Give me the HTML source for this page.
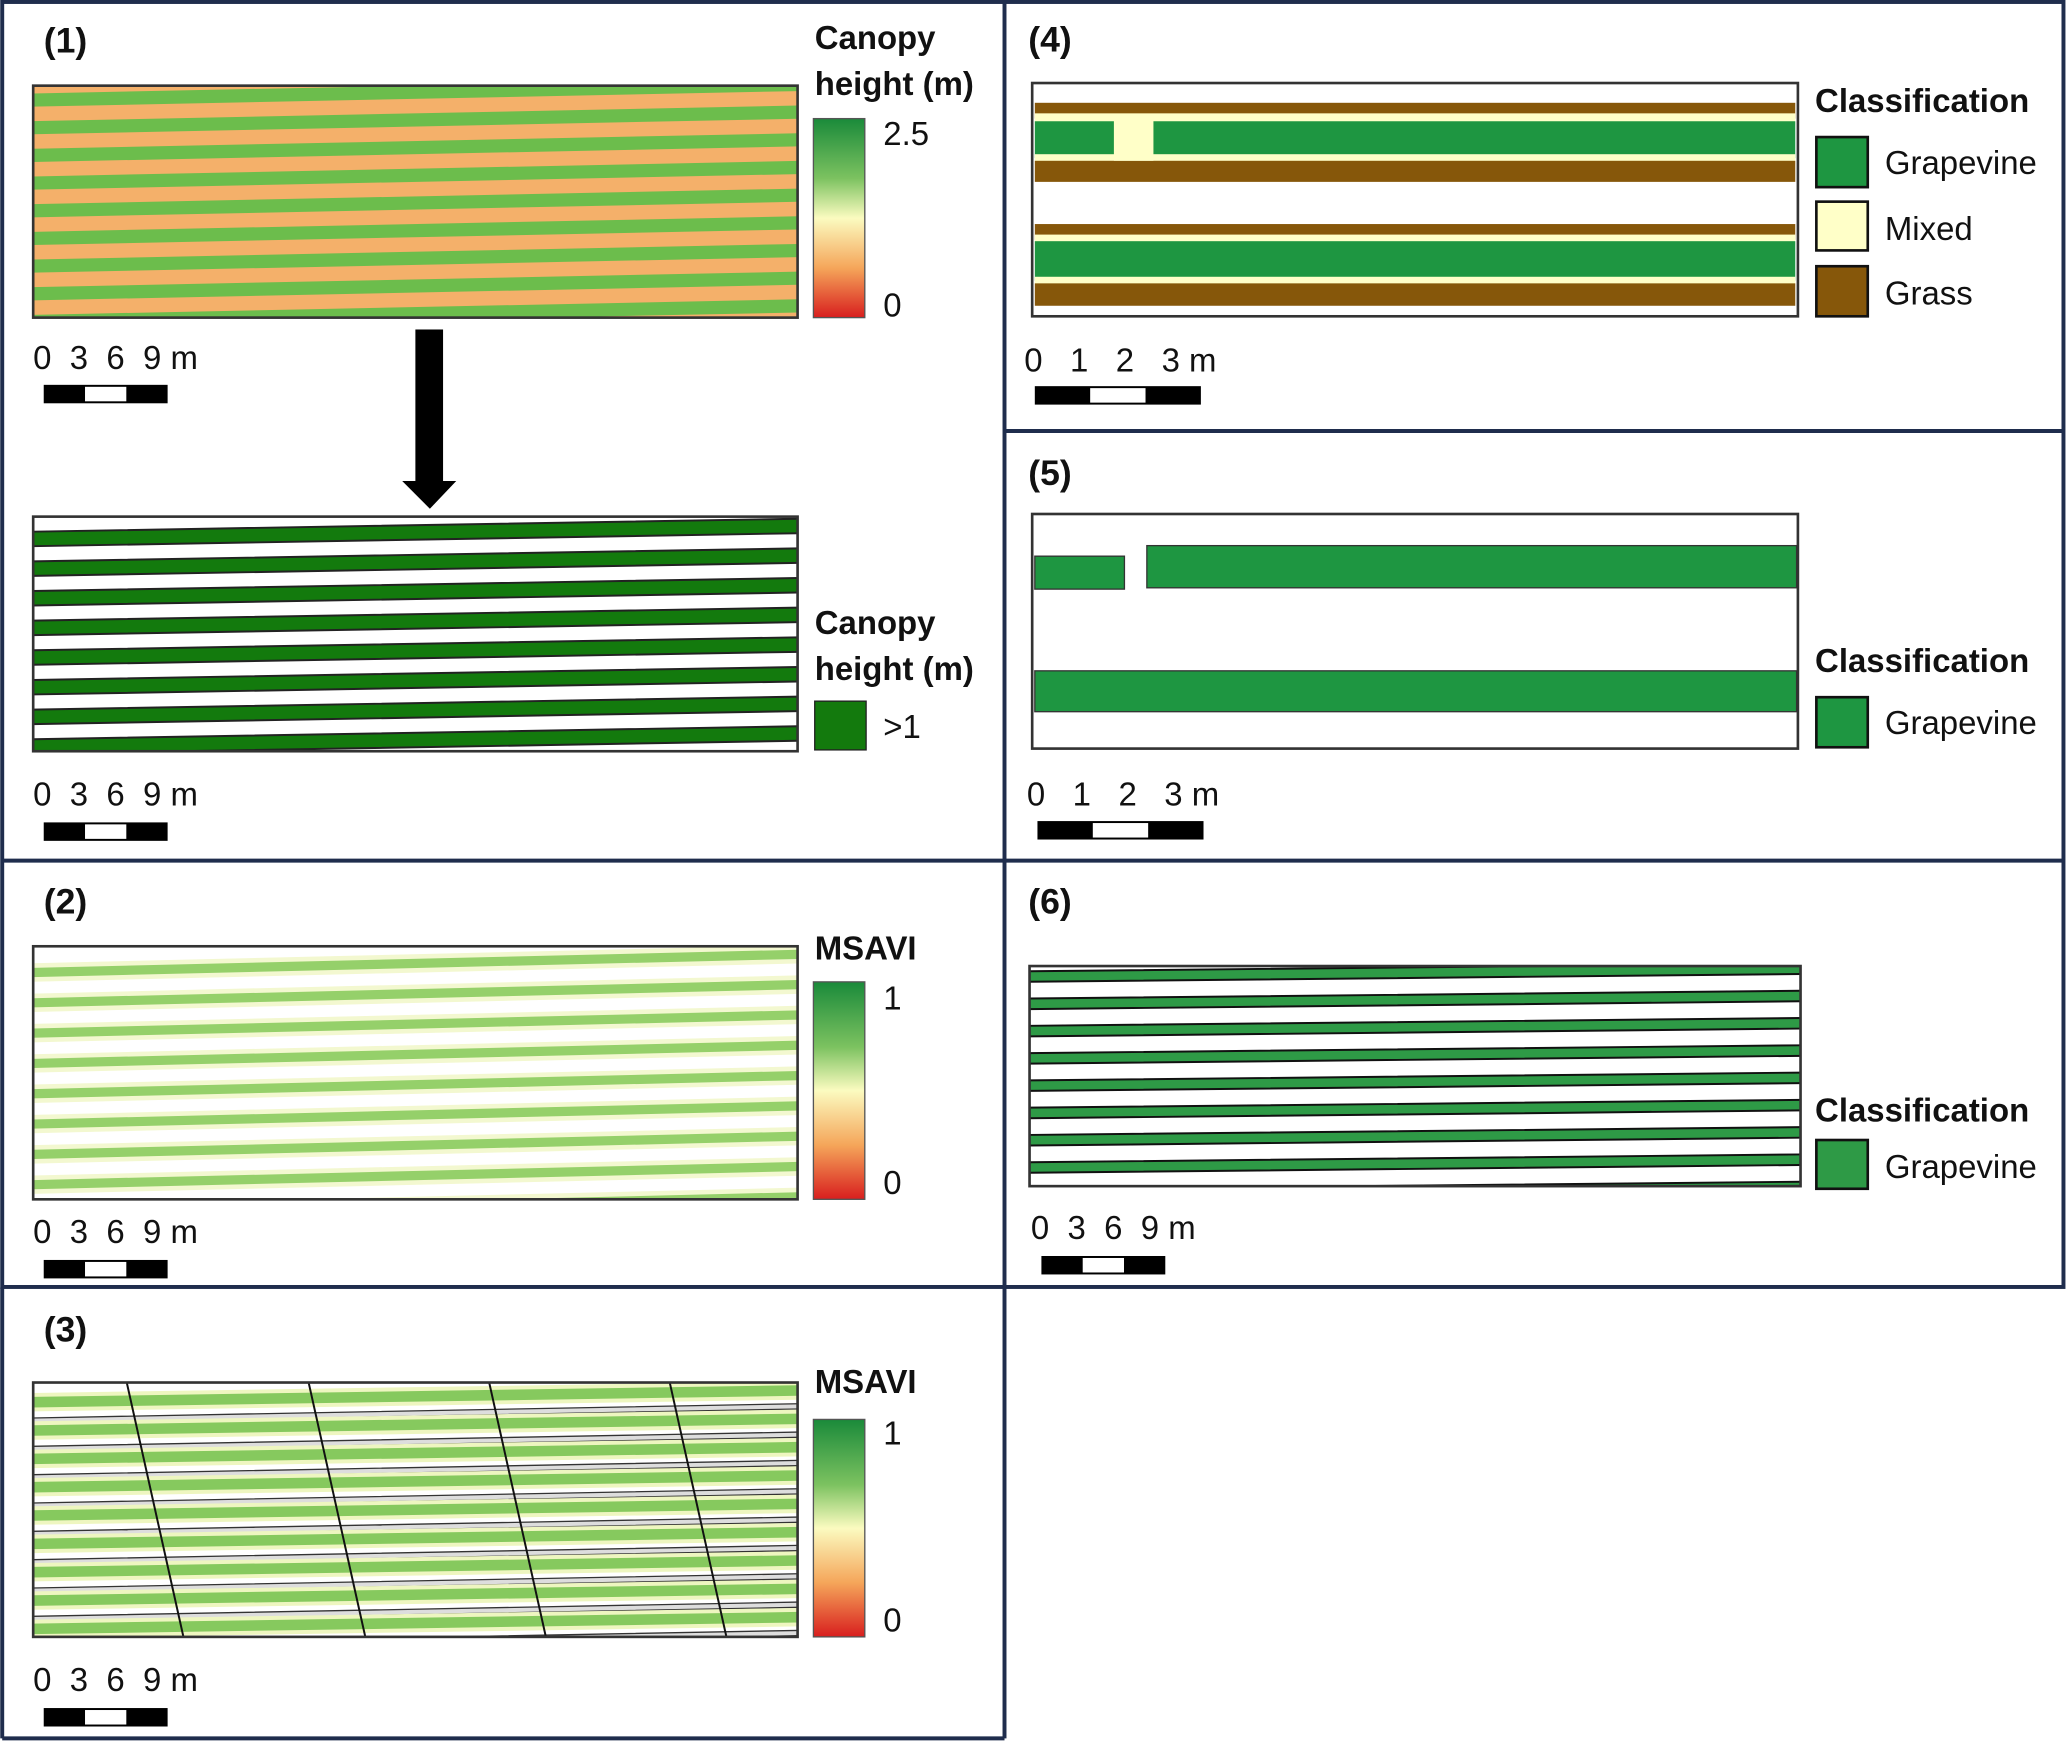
<!DOCTYPE html>
<html><head><meta charset="utf-8"><style>
html,body{margin:0;padding:0;background:#fff}
svg{display:block}
text{font-family:"Liberation Sans",sans-serif;fill:#111}
.t{font-size:27px;font-weight:bold}
.lb{font-size:25px;font-weight:bold}
.lg{font-size:25px}
.sc{font-size:25px;white-space:pre}
</style></head><body>
<svg id="fig" width="2067" height="1741" viewBox="0 0 1568 1321" xmlns="http://www.w3.org/2000/svg">
<defs>
<linearGradient id="gc" x1="0" y1="0" x2="0" y2="1">
<stop offset="0" stop-color="#1a8a3a"/><stop offset="0.3" stop-color="#7cc260"/><stop offset="0.5" stop-color="#fbfbc0"/><stop offset="0.75" stop-color="#f5a65a"/><stop offset="1" stop-color="#d81e1e"/>
</linearGradient>
<clipPath id="c1"><rect x="25" y="65" width="580" height="176"/></clipPath>
<clipPath id="c1b"><rect x="25" y="392" width="580" height="178"/></clipPath>
<clipPath id="c2"><rect x="25" y="718" width="580" height="192"/></clipPath>
<clipPath id="c3"><rect x="25" y="1049" width="580" height="193"/></clipPath>
<clipPath id="c6"><rect x="781" y="733" width="585" height="167"/></clipPath>
</defs>
<g fill="none" stroke="#1f2d4d" stroke-width="3">
<rect x="1.5" y="1.5" width="1564" height="975"/>
<line x1="762" y1="1.5" x2="762" y2="1319"/>
<line x1="1.5" y1="653" x2="1566" y2="653"/>
<line x1="762" y1="327" x2="1566" y2="327"/>
<line x1="1.5" y1="977" x2="1.5" y2="1319"/>
<line x1="1.5" y1="1319" x2="762" y2="1319"/>
</g>

<text class="t" x="33" y="40">(1)</text>
<rect x="25" y="65" width="580" height="176" fill="#f4b06a"/>
<g id="g1" clip-path="url(#c1)"></g>
<rect x="25" y="65" width="580" height="176" fill="none" stroke="#333" stroke-width="2"/>
<text class="lb" x="618" y="37">Canopy</text>
<text class="lb" x="618" y="72">height (m)</text>
<rect x="617" y="90" width="39" height="151" fill="url(#gc)" stroke="#555"/>
<text class="lg" x="670" y="110">2.5</text>
<text class="lg" x="670" y="240">0</text>
<rect x="315" y="250" width="21" height="118" fill="#000"/>
<polygon points="305,365 346,365 326,386" fill="#000"/>

<rect x="25" y="392" width="580" height="178" fill="#fff"/>
<g id="g1b" clip-path="url(#c1b)"></g>
<rect x="25" y="392" width="580" height="178" fill="none" stroke="#333" stroke-width="2"/>
<text class="lb" x="618" y="481">Canopy</text>
<text class="lb" x="618" y="516">height (m)</text>
<rect x="618" y="532" width="39" height="37" fill="#137a0d" stroke="#222"/>
<text class="lg" x="670" y="560">&gt;1</text>

<text class="t" x="33" y="693">(2)</text>
<rect x="25" y="718" width="580" height="192" fill="#fff"/>
<g id="g2" clip-path="url(#c2)"></g>
<rect x="25" y="718" width="580" height="192" fill="none" stroke="#333" stroke-width="2"/>
<text class="lb" x="618" y="728">MSAVI</text>
<rect x="617" y="745" width="39" height="165" fill="url(#gc)" stroke="#555"/>
<text class="lg" x="670" y="766">1</text>
<text class="lg" x="670" y="906">0</text>

<text class="t" x="33" y="1018">(3)</text>
<rect x="25" y="1049" width="580" height="193" fill="#fff"/>
<g id="g3" clip-path="url(#c3)"></g>
<rect x="25" y="1049" width="580" height="193" fill="none" stroke="#333" stroke-width="2"/>
<text class="lb" x="618" y="1057">MSAVI</text>
<rect x="617" y="1077" width="39" height="165" fill="url(#gc)" stroke="#555"/>
<text class="lg" x="670" y="1096">1</text>
<text class="lg" x="670" y="1238">0</text>

<text class="t" x="780" y="39">(4)</text>
<rect x="783" y="63" width="581" height="177" fill="#fff"/>
<g id="g4"></g>
<rect x="783" y="63" width="581" height="177" fill="none" stroke="#333" stroke-width="2"/>
<text class="lb" x="1377" y="85">Classification</text>
<rect x="1378" y="104" width="39" height="38" fill="#1e9641" stroke="#111" stroke-width="2"/>
<text class="lg" x="1430" y="132">Grapevine</text>
<rect x="1378" y="153" width="39" height="37" fill="#ffffc8" stroke="#111" stroke-width="2"/>
<text class="lg" x="1430" y="182">Mixed</text>
<rect x="1378" y="202" width="39" height="38" fill="#86570a" stroke="#111" stroke-width="2"/>
<text class="lg" x="1430" y="231">Grass</text>

<text class="t" x="780" y="368">(5)</text>
<rect x="783" y="390" width="581" height="178" fill="#fff" stroke="#333" stroke-width="2"/>
<g id="g5"></g>
<text class="lb" x="1377" y="510">Classification</text>
<rect x="1378" y="529" width="39" height="38" fill="#1e9641" stroke="#111" stroke-width="2"/>
<text class="lg" x="1430" y="557">Grapevine</text>

<text class="t" x="780" y="693">(6)</text>
<rect x="781" y="733" width="585" height="167" fill="#fff"/>
<g id="g6" clip-path="url(#c6)"></g>
<rect x="781" y="733" width="585" height="167" fill="none" stroke="#333" stroke-width="2"/>
<text class="lb" x="1377" y="851">Classification</text>
<rect x="1378" y="865" width="39" height="37" fill="#2e9a46" stroke="#111" stroke-width="2"/>
<text class="lg" x="1430" y="894">Grapevine</text>

<g id="scales"></g>
</svg>
<script>
const NS="http://www.w3.org/2000/svg";
function mk(parent,tag,attrs){const e=document.createElementNS(NS,tag);for(const k in attrs)e.setAttribute(k,attrs[k]);parent.appendChild(e);return e;}
function band(g,x0,x1,yl,yr,h,fill,stroke,sw){
  return mk(g,'polygon',{points:`${x0},${yl-h/2} ${x1},${yr-h/2} ${x1},${yr+h/2} ${x0},${yl+h/2}`,fill:fill,stroke:stroke||'none','stroke-width':sw||0});
}
const g1=document.getElementById('g1');
const p1Rows=[0,1,2,3,4,5,6,7,8,9];
p1Rows.forEach(i=>{const b=band(g1,20,610,76+i*21,64+i*21,10,'#6cbd4c');

});
const g1b=document.getElementById('g1b');
const p1bRows=[0,1,2,3,4,5,6,7];
p1bRows.forEach(i=>{const b=band(g1b,20,610,409+i*22.5,399+i*22.5,11,'#137a0d','#222',1.5);

});
const g2=document.getElementById('g2');
const p2Rows=[0,1,2,3,4,5,6,7,8];
p2Rows.forEach(i=>{band(g2,20,610,738+i*23,724+i*23,14,'#f3f8d0');const b=band(g2,20,610,738+i*23,724+i*23,7,'#95d06a');

});
const g3=document.getElementById('g3');
const p3Rows=[0,1,2,3,4,5,6,7,8,9];
p3Rows.forEach(i=>{band(g3,20,610,1064+i*21.5,1055+i*21.5,14,'#eef6c0');const b=band(g3,20,610,1064+i*21.5,1055+i*21.5,8,'#86c95e');


band(g3,20,610,1078+i*21.5,1067+i*21.5,4,'#ddd','#333',1);});
const p3Cols=[121,259,396,533];
p3Cols.forEach(x=>{const l=mk(g3,'line',{x1:x-25,y1:1049,x2:x+18,y2:1242,stroke:'#111','stroke-width':1.5});

});
const g4=document.getElementById('g4');
const p4Bands=[[78,90,'#86570a'],[86,95,'#ffffc8'],[92,120,'#1e9641'],[117,125,'#ffffc8'],[122,138,'#86570a'],
 [170,182,'#86570a'],[178,186,'#ffffc8'],[183,213,'#1e9641'],[210,218,'#ffffc8'],[215,232,'#86570a']];
p4Bands.forEach(b=>{const r=mk(g4,'rect',{x:785,y:b[0],width:577,height:b[1]-b[0],fill:b[2]});

});
mk(g4,'rect',{x:845,y:90,width:30,height:32,fill:'#ffffc8'});
const g5=document.getElementById('g5');
const p5Segs=[[785,853,422,447],[870,1363,414,446],[785,1363,509,540]];
p5Segs.forEach(s=>{const r=mk(g5,'rect',{x:s[0],y:s[2],width:s[1]-s[0],height:s[3]-s[2],fill:'#1e9641',stroke:'#333','stroke-width':1});

});
const g6=document.getElementById('g6');
const p6Rows=[0,1,2,3,4,5,6,7,8];
p6Rows.forEach(i=>{const b=band(g6,776,1370,741+i*20.7,735+i*20.7,8,'#2e9a46','#111',1.5);

});
const sc=document.getElementById('scales');
const scaleBars=[[25,280,33,292,'0  3  6  9 m'],[25,611,33,624,'0  3  6  9 m'],[25,943,33,956,'0  3  6  9 m'],[25,1283,33,1296,'0  3  6  9 m'],
 [777,282,785,293,'0   1   2   3 m'],[779,611,787,623,'0   1   2   3 m'],[782,940,790,953,'0  3  6  9 m']];
scaleBars.forEach(s=>{
 const t=mk(sc,'text',{x:s[0],y:s[1],class:'sc'});t.textContent=s[4];
 
 
 const w=s[4].indexOf('1')>=0?126:94;
 mk(sc,'rect',{x:s[2],y:s[3],width:w,height:14,fill:'#000'});
 mk(sc,'rect',{x:s[2]+w/3,y:s[3]+1.5,width:w/3,height:11,fill:'#fff'});
});
</script>
</body></html>
